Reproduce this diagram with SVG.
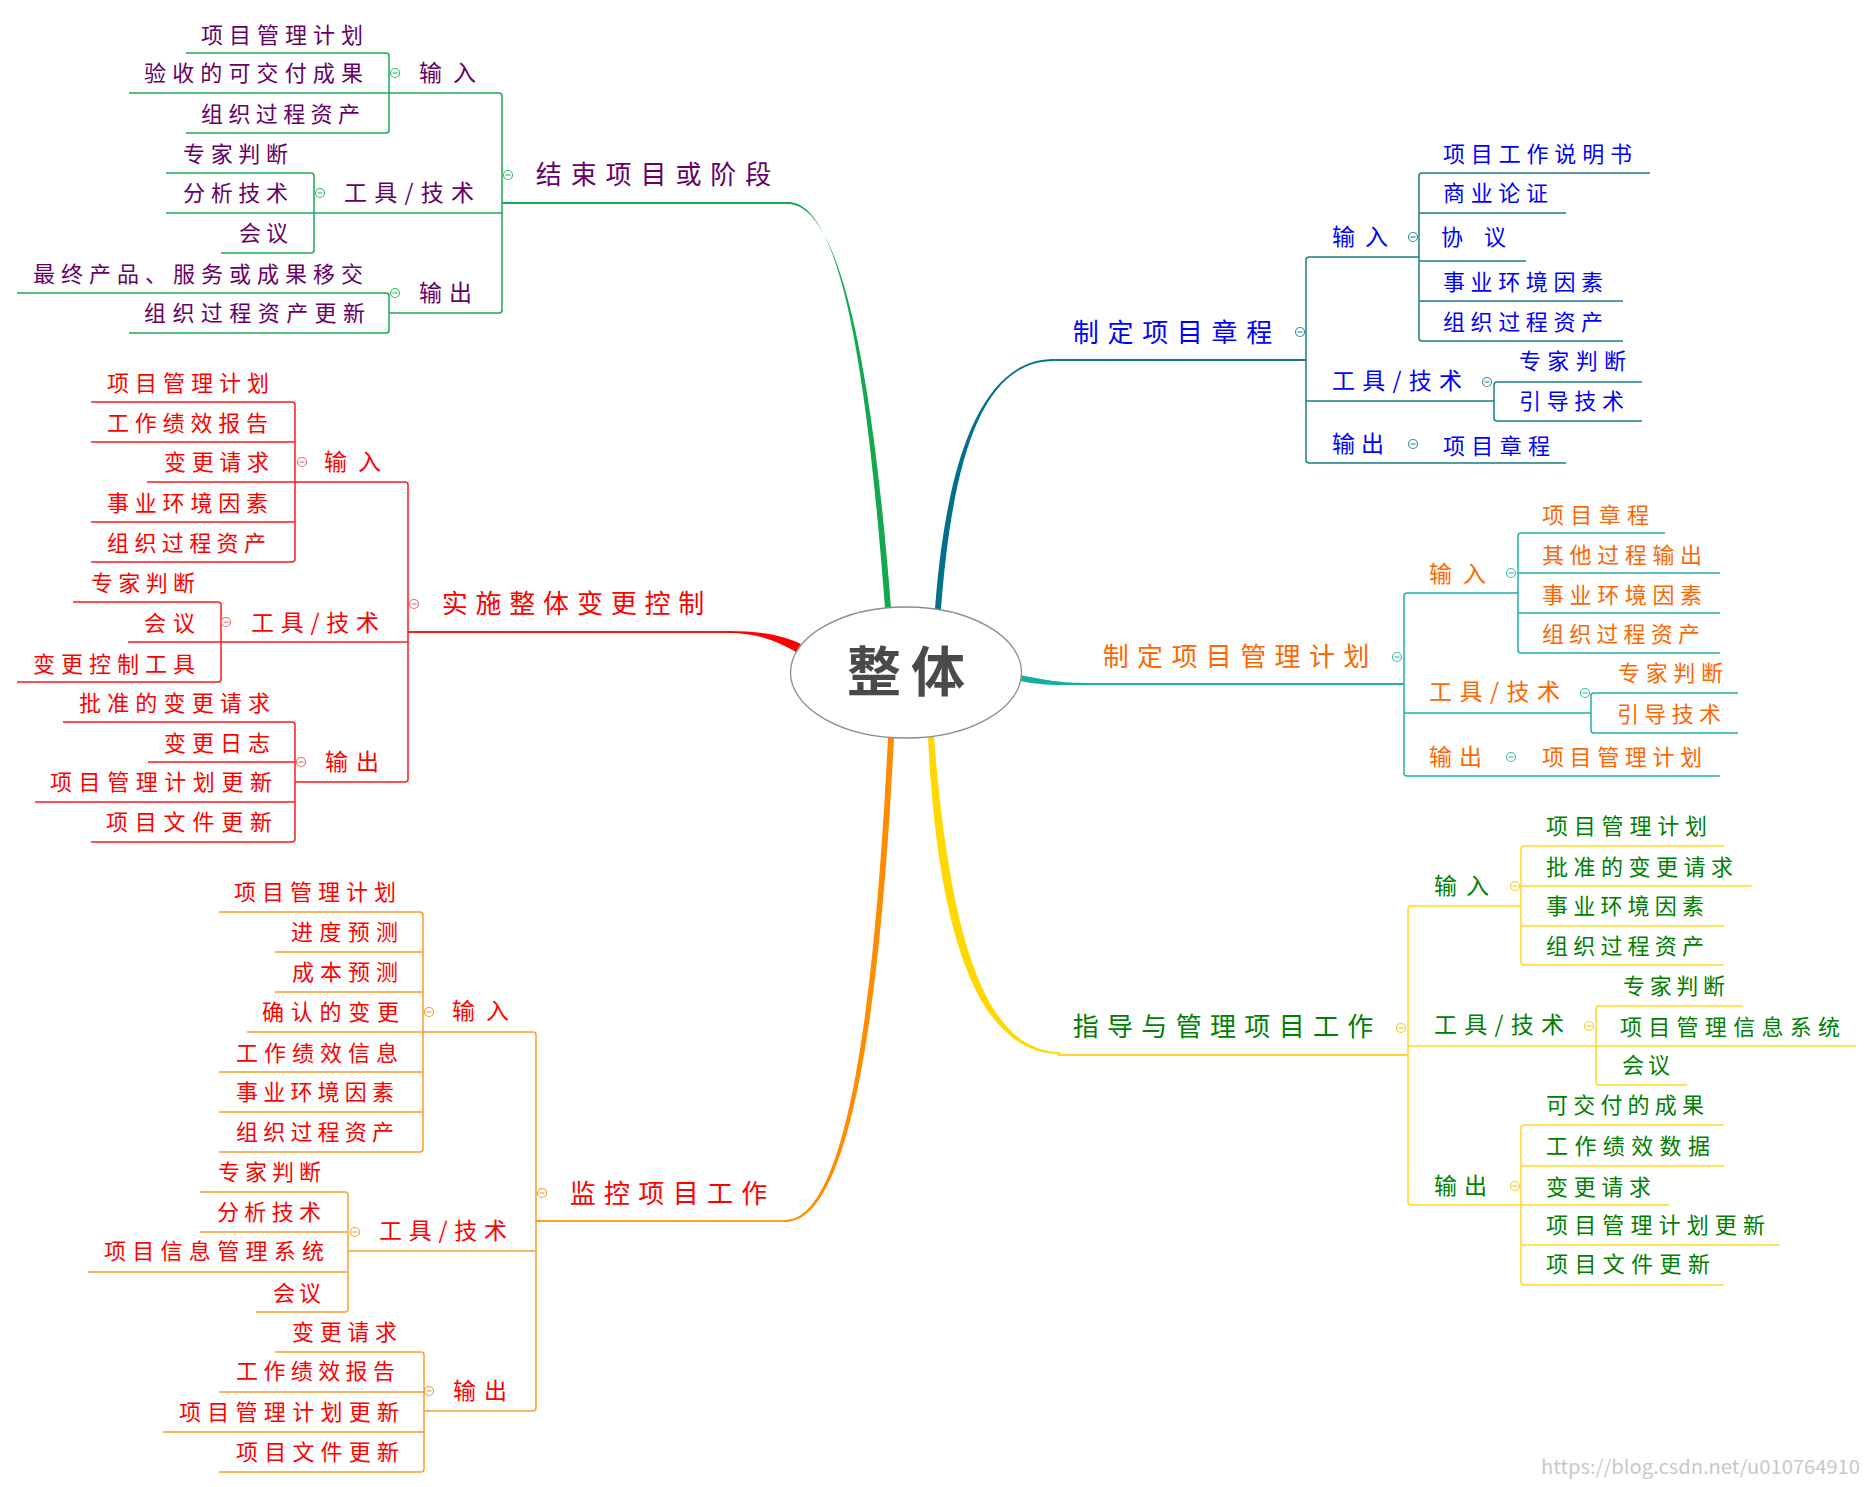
<svg xmlns="http://www.w3.org/2000/svg" width="1872" height="1487" viewBox="0 0 1872 1487">
<style>
text{font-family:"Noto Sans CJK SC","Noto Sans CJK JP",sans-serif}
.lf{font-size:22px}
.sb{font-size:23px}
.tt{font-size:26px}
.t1 text{fill:#660066}
.t2 text,.t3 text{fill:#ff0000}
.t4 text{fill:#0000ff}
.t5 text{fill:#ff6600}
.t6 text{fill:#008000}
.ln{fill:none;stroke-width:1.5;stroke-linejoin:round}
.mu{fill:none;stroke-width:2}
.l1{stroke:#1aaa55}.l2{stroke:#ff1a1a}.l3{stroke:#f7a12c}.l4{stroke:#1b7c8c}.l5{stroke:#1fb3a3}.l6{stroke:#ffd724}
.k{stroke-width:1.2}
.k1{stroke:#3cbf6f}.k2{stroke:#e87070}.k3{stroke:#f0a040}.k4{stroke:#3a909c}.k5{stroke:#40c0b0}.k6{stroke:#f5cf20}
</style>
<defs>
<g id="mn"><circle r="4.5" fill="#fff"/><line x1="-2.5" y1="0" x2="2.5" y2="0"/></g>
</defs>
<rect width="1872" height="1487" fill="#fff"/>

<g id="connectors">
<!-- branch 1 green -->
<path class="ln l1" d="M186,53 H386 Q389,53 389,56 V130 Q389,133 386,133 H186 M166,173 H311 Q314,173 314,176 V250 Q314,253 311,253 H221 M166,213 H502 M17,293 H386 Q389,293 389,296 V330 Q389,333 386,333 H129 M129,93 H499 Q502,93 502,96 V310 Q502,313 499,313 H389"/>
<path class="mu l1" d="M502,203 H790"/>
<path fill="#12a94c" d="M788,202 C845,202 869,400 885,608 L891,608 C875,400 845,204 788,204 Z"/>
<!-- branch 2 red -->
<path class="ln l2" d="M91,402 H292 Q295,402 295,405 V559 Q295,562 292,562 H91 M91,442 H295 M91,522 H295 M147,482 H405 Q408,482 408,485 V779 Q408,782 405,782 H295 M73,602 H218 Q221,602 221,605 V679 Q221,682 218,682 H17 M128,642 H408 M63,722 H292 Q295,722 295,725 V839 Q295,842 292,842 H91 M148,762 H295 M35,802 H295"/>
<path class="mu l2" d="M408,632 H729"/>
<path fill="#ff0000" d="M727,631 C760,631 782,635 801,644 L796,652 C778,642 760,633 727,633 Z"/>
<!-- branch 3 orange -->
<path class="ln l3" d="M219,912 H420 Q423,912 423,915 V1149 Q423,1152 420,1152 H219 M275,952 H423 M275,992 H423 M219,1072 H423 M219,1112 H423 M247,1032 H533 Q536,1032 536,1035 V1408 Q536,1411 533,1411 H424 M200,1192 H345 Q348,1192 348,1195 V1309 Q348,1312 345,1312 H256 M200,1232 H348 M88,1272 H348 M348,1251 H536 M275,1352 H421 Q424,1352 424,1355 V1469 Q424,1472 421,1472 H219 M219,1392 H424 M163,1432 H424"/>
<path class="mu l3" d="M536,1221 H787"/>
<path fill="#ff8c00" d="M888,737 C875,1000 848,1220 785,1220 L785,1222 C852,1222 881,1000 894,737 Z"/>
<!-- branch 4 blue -->
<path class="ln l4" d="M1650,173 H1422 Q1419,173 1419,176 V338 Q1419,341 1422,341 H1623 M1419,213 H1566 M1419,261 H1526 M1419,301 H1623 M1419,257 H1309 Q1306,257 1306,260 V460 Q1306,463 1309,463 H1566 M1642,382 H1497 Q1494,382 1494,385 V418 Q1494,421 1497,421 H1642 M1306,401 H1494"/>
<path class="mu l4" d="M1052,360 H1306"/>
<path fill="#00708c" d="M1054,359 C985,359 947,450 935,609 L941,609 C953,450 985,361 1054,361 Z"/>
<!-- branch 5 teal -->
<path class="ln l5" d="M1665,533 H1521 Q1518,533 1518,536 V650 Q1518,653 1521,653 H1720 M1518,573 H1720 M1518,613 H1720 M1518,593 H1407 Q1404,593 1404,596 V773 Q1404,776 1407,776 H1720 M1738,693 H1594 Q1591,693 1591,696 V730 Q1591,733 1594,733 H1738 M1404,713 H1591"/>
<path class="mu l5" d="M1086,684 H1404"/>
<path fill="#12b0a0" d="M1020,675 C1045,680 1060,683 1090,683 L1090,685 C1060,685 1045,686 1020,681 Z"/>
<!-- branch 6 yellow -->
<path class="ln l6" d="M1724,846 H1524 Q1521,846 1521,849 V962 Q1521,965 1524,965 H1724 M1521,886 H1752 M1521,926 H1724 M1521,906 H1411 Q1408,906 1408,909 V1202 Q1408,1205 1411,1205 H1669 M1743,1006 H1599 Q1596,1006 1596,1009 V1082 Q1596,1085 1599,1085 H1687 M1408,1046 H1856 M1724,1125 H1524 Q1521,1125 1521,1128 V1282 Q1521,1285 1524,1285 H1724 M1521,1166 H1724 M1521,1245 H1780"/>
<path class="mu l6" d="M1058,1055 H1408"/>
<path fill="#ffd800" d="M928,737 C939,962 988,1054 1060,1054 L1060,1052 C992,1052 951,958 934,737 Z"/>
</g>

<g id="center">
<ellipse cx="906" cy="672.5" rx="115.5" ry="65.5" fill="#fff" stroke="#8c8c8c" stroke-width="1.3"/>
<text x="847" y="692" textLength="118" lengthAdjust="spacing" font-size="54" font-weight="700" fill="#4a4a4a">整体</text>
</g>

<g id="b1" class="t1">
<g id="b1-main"><use href="#mn" x="508" y="175" class="k k1"/><text class="tt" x="535.7" y="184" textLength="235.6" lengthAdjust="spacing">结束项目或阶段</text></g>
<g id="b1-in"><use href="#mn" x="395" y="73" class="k k1"/><text class="sb" x="419" y="80.5" textLength="57" lengthAdjust="spacing">输入</text></g>
<g id="b1-tool"><use href="#mn" x="320" y="193" class="k k1"/><text class="sb" x="344" y="200.5" textLength="130" lengthAdjust="spacing">工具/技术</text></g>
<g id="b1-out"><use href="#mn" x="395" y="293" class="k k1"/><text class="sb" x="419" y="300.5" textLength="53" lengthAdjust="spacing">输出</text></g>
<g id="b1-l1"><text class="lf" x="201" y="42.5" textLength="162" lengthAdjust="spacing">项目管理计划</text></g>
<g id="b1-l2"><text class="lf" x="144" y="81" textLength="219" lengthAdjust="spacing">验收的可交付成果</text></g>
<g id="b1-l3"><text class="lf" x="201" y="122" textLength="159" lengthAdjust="spacing">组织过程资产</text></g>
<g id="b1-l4"><text class="lf" x="183" y="161.5" textLength="105" lengthAdjust="spacing">专家判断</text></g>
<g id="b1-l5"><text class="lf" x="183" y="200.5" textLength="105" lengthAdjust="spacing">分析技术</text></g>
<g id="b1-l6"><text class="lf" x="239" y="241" textLength="49" lengthAdjust="spacing">会议</text></g>
<g id="b1-l7"><text class="lf" x="33" y="282" textLength="330" lengthAdjust="spacing">最终产品、服务或成果移交</text></g>
<g id="b1-l8"><text class="lf" x="144" y="321" textLength="221" lengthAdjust="spacing">组织过程资产更新</text></g>
</g>

<g id="b2" class="t2">
<g id="b2-main"><use href="#mn" x="414" y="604" class="k k2"/><text class="tt" x="441.7" y="612.5" textLength="262.6" lengthAdjust="spacing">实施整体变更控制</text></g>
<g id="b2-in"><use href="#mn" x="302" y="462" class="k k2"/><text class="sb" x="324" y="469.5" textLength="57" lengthAdjust="spacing">输入</text></g>
<g id="b2-tool"><use href="#mn" x="226" y="622" class="k k2"/><text class="sb" x="251" y="631" textLength="128" lengthAdjust="spacing">工具/技术</text></g>
<g id="b2-out"><use href="#mn" x="301" y="762" class="k k2"/><text class="sb" x="325" y="769.5" textLength="54" lengthAdjust="spacing">输出</text></g>
<g id="b2-l1"><text class="lf" x="107" y="391" textLength="162" lengthAdjust="spacing">项目管理计划</text></g>
<g id="b2-l2"><text class="lf" x="107" y="430.5" textLength="161" lengthAdjust="spacing">工作绩效报告</text></g>
<g id="b2-l3"><text class="lf" x="164" y="470" textLength="105" lengthAdjust="spacing">变更请求</text></g>
<g id="b2-l4"><text class="lf" x="107" y="511" textLength="161" lengthAdjust="spacing">事业环境因素</text></g>
<g id="b2-l5"><text class="lf" x="107" y="550.5" textLength="159" lengthAdjust="spacing">组织过程资产</text></g>
<g id="b2-l6"><text class="lf" x="91" y="590.5" textLength="104" lengthAdjust="spacing">专家判断</text></g>
<g id="b2-l7"><text class="lf" x="144" y="630.5" textLength="51" lengthAdjust="spacing">会议</text></g>
<g id="b2-l8"><text class="lf" x="33" y="671.5" textLength="162" lengthAdjust="spacing">变更控制工具</text></g>
<g id="b2-l9"><text class="lf" x="79" y="711" textLength="191" lengthAdjust="spacing">批准的变更请求</text></g>
<g id="b2-l10"><text class="lf" x="164" y="750.5" textLength="106" lengthAdjust="spacing">变更日志</text></g>
<g id="b2-l11"><text class="lf" x="50" y="790" textLength="222" lengthAdjust="spacing">项目管理计划更新</text></g>
<g id="b2-l12"><text class="lf" x="106" y="830" textLength="166" lengthAdjust="spacing">项目文件更新</text></g>
</g>

<g id="b3" class="t3">
<g id="b3-main"><use href="#mn" x="542" y="1193" class="k k3"/><text class="tt" x="569.7" y="1202.5" textLength="197.6" lengthAdjust="spacing">监控项目工作</text></g>
<g id="b3-in"><use href="#mn" x="429" y="1012" class="k k3"/><text class="sb" x="452" y="1019" textLength="57" lengthAdjust="spacing">输入</text></g>
<g id="b3-tool"><use href="#mn" x="355" y="1232" class="k k3"/><text class="sb" x="379" y="1239" textLength="128" lengthAdjust="spacing">工具/技术</text></g>
<g id="b3-out"><use href="#mn" x="429" y="1391" class="k k3"/><text class="sb" x="453" y="1399" textLength="54" lengthAdjust="spacing">输出</text></g>
<g id="b3-l1"><text class="lf" x="234" y="899.5" textLength="162" lengthAdjust="spacing">项目管理计划</text></g>
<g id="b3-l2"><text class="lf" x="291" y="939.5" textLength="107" lengthAdjust="spacing">进度预测</text></g>
<g id="b3-l3"><text class="lf" x="292" y="979.5" textLength="106" lengthAdjust="spacing">成本预测</text></g>
<g id="b3-l4"><text class="lf" x="262" y="1019.5" textLength="137" lengthAdjust="spacing">确认的变更</text></g>
<g id="b3-l5"><text class="lf" x="236" y="1060.5" textLength="162" lengthAdjust="spacing">工作绩效信息</text></g>
<g id="b3-l6"><text class="lf" x="236" y="1099.5" textLength="158" lengthAdjust="spacing">事业环境因素</text></g>
<g id="b3-l7"><text class="lf" x="236" y="1140" textLength="158" lengthAdjust="spacing">组织过程资产</text></g>
<g id="b3-l8"><text class="lf" x="218" y="1179.5" textLength="103" lengthAdjust="spacing">专家判断</text></g>
<g id="b3-l9"><text class="lf" x="217" y="1219.5" textLength="104" lengthAdjust="spacing">分析技术</text></g>
<g id="b3-l10"><text class="lf" x="104" y="1258.5" textLength="220" lengthAdjust="spacing">项目信息管理系统</text></g>
<g id="b3-l11"><text class="lf" x="273" y="1301" textLength="48" lengthAdjust="spacing">会议</text></g>
<g id="b3-l12"><text class="lf" x="292" y="1339.5" textLength="105" lengthAdjust="spacing">变更请求</text></g>
<g id="b3-l13"><text class="lf" x="236" y="1378.5" textLength="159" lengthAdjust="spacing">工作绩效报告</text></g>
<g id="b3-l14"><text class="lf" x="179" y="1419.5" textLength="220" lengthAdjust="spacing">项目管理计划更新</text></g>
<g id="b3-l15"><text class="lf" x="236" y="1459.5" textLength="163" lengthAdjust="spacing">项目文件更新</text></g>
</g>

<g id="b4" class="t4">
<g id="b4-main"><use href="#mn" x="1300" y="332" class="k k4"/><text class="tt" x="1072.7" y="341.5" textLength="199.6" lengthAdjust="spacing">制定项目章程</text></g>
<g id="b4-in"><use href="#mn" x="1413" y="237" class="k k4"/><text class="sb" x="1332" y="244.5" textLength="56" lengthAdjust="spacing">输入</text></g>
<g id="b4-tool"><use href="#mn" x="1487" y="382" class="k k4"/><text class="sb" x="1332" y="389" textLength="130" lengthAdjust="spacing">工具/技术</text></g>
<g id="b4-out"><use href="#mn" x="1413" y="444" class="k k4"/><text class="sb" x="1332" y="451.5" textLength="52" lengthAdjust="spacing">输出</text></g>
<g id="b4-l1"><text class="lf" x="1443" y="161.5" textLength="189" lengthAdjust="spacing">项目工作说明书</text></g>
<g id="b4-l2"><text class="lf" x="1443" y="201" textLength="105" lengthAdjust="spacing">商业论证</text></g>
<g id="b4-l3"><text class="lf" x="1441" y="245" textLength="65" lengthAdjust="spacing">协议</text></g>
<g id="b4-l4"><text class="lf" x="1443" y="289.5" textLength="160" lengthAdjust="spacing">事业环境因素</text></g>
<g id="b4-l5"><text class="lf" x="1443" y="330" textLength="160" lengthAdjust="spacing">组织过程资产</text></g>
<g id="b4-l6"><text class="lf" x="1519" y="368.5" textLength="107" lengthAdjust="spacing">专家判断</text></g>
<g id="b4-l7"><text class="lf" x="1519" y="408.5" textLength="105" lengthAdjust="spacing">引导技术</text></g>
<g id="b4-l8"><text class="lf" x="1443" y="453.5" textLength="107" lengthAdjust="spacing">项目章程</text></g>
</g>

<g id="b5" class="t5">
<g id="b5-main"><use href="#mn" x="1397" y="657" class="k k5"/><text class="tt" x="1102.7" y="665.5" textLength="266.6" lengthAdjust="spacing">制定项目管理计划</text></g>
<g id="b5-in"><use href="#mn" x="1511" y="573" class="k k5"/><text class="sb" x="1429" y="581.5" textLength="57" lengthAdjust="spacing">输入</text></g>
<g id="b5-tool"><use href="#mn" x="1585" y="693" class="k k5"/><text class="sb" x="1429" y="700" textLength="131" lengthAdjust="spacing">工具/技术</text></g>
<g id="b5-out"><use href="#mn" x="1511" y="757" class="k k5"/><text class="sb" x="1429" y="764.5" textLength="53" lengthAdjust="spacing">输出</text></g>
<g id="b5-l1"><text class="lf" x="1542" y="522.5" textLength="107" lengthAdjust="spacing">项目章程</text></g>
<g id="b5-l2"><text class="lf" x="1542" y="562.5" textLength="160" lengthAdjust="spacing">其他过程输出</text></g>
<g id="b5-l3"><text class="lf" x="1542" y="602.5" textLength="160" lengthAdjust="spacing">事业环境因素</text></g>
<g id="b5-l4"><text class="lf" x="1542" y="642" textLength="158" lengthAdjust="spacing">组织过程资产</text></g>
<g id="b5-l5"><text class="lf" x="1618" y="681" textLength="105" lengthAdjust="spacing">专家判断</text></g>
<g id="b5-l6"><text class="lf" x="1617" y="721.5" textLength="104" lengthAdjust="spacing">引导技术</text></g>
<g id="b5-l7"><text class="lf" x="1542" y="764.5" textLength="160" lengthAdjust="spacing">项目管理计划</text></g>
</g>

<g id="b6" class="t6">
<g id="b6-main"><use href="#mn" x="1401" y="1028" class="k k6"/><text class="tt" x="1072.7" y="1035.5" textLength="300.6" lengthAdjust="spacing">指导与管理项目工作</text></g>
<g id="b6-in"><use href="#mn" x="1515" y="886" class="k k6"/><text class="sb" x="1434" y="893.5" textLength="55" lengthAdjust="spacing">输入</text></g>
<g id="b6-tool"><use href="#mn" x="1589" y="1026" class="k k6"/><text class="sb" x="1434" y="1033" textLength="130" lengthAdjust="spacing">工具/技术</text></g>
<g id="b6-out"><use href="#mn" x="1515" y="1186" class="k k6"/><text class="sb" x="1434" y="1193.5" textLength="53" lengthAdjust="spacing">输出</text></g>
<g id="b6-l1"><text class="lf" x="1546" y="833.5" textLength="161" lengthAdjust="spacing">项目管理计划</text></g>
<g id="b6-l2"><text class="lf" x="1546" y="874.5" textLength="187" lengthAdjust="spacing">批准的变更请求</text></g>
<g id="b6-l3"><text class="lf" x="1546" y="913.5" textLength="158" lengthAdjust="spacing">事业环境因素</text></g>
<g id="b6-l4"><text class="lf" x="1546" y="953.5" textLength="158" lengthAdjust="spacing">组织过程资产</text></g>
<g id="b6-l5"><text class="lf" x="1623" y="993.5" textLength="102" lengthAdjust="spacing">专家判断</text></g>
<g id="b6-l6"><text class="lf" x="1620" y="1034.5" textLength="220" lengthAdjust="spacing">项目管理信息系统</text></g>
<g id="b6-l7"><text class="lf" x="1622" y="1072.5" textLength="48" lengthAdjust="spacing">会议</text></g>
<g id="b6-l8"><text class="lf" x="1546" y="1112.5" textLength="158" lengthAdjust="spacing">可交付的成果</text></g>
<g id="b6-l9"><text class="lf" x="1546" y="1153.5" textLength="164" lengthAdjust="spacing">工作绩效数据</text></g>
<g id="b6-l10"><text class="lf" x="1546" y="1194.5" textLength="105" lengthAdjust="spacing">变更请求</text></g>
<g id="b6-l11"><text class="lf" x="1546" y="1233" textLength="219" lengthAdjust="spacing">项目管理计划更新</text></g>
<g id="b6-l12"><text class="lf" x="1546" y="1272" textLength="164" lengthAdjust="spacing">项目文件更新</text></g>
</g>

<text x="1541" y="1474" font-family="Liberation Serif, serif" font-size="19" fill="#c8c8c8" textLength="319" lengthAdjust="spacingAndGlyphs">https://blog.csdn.net/u010764910</text>
</svg>
